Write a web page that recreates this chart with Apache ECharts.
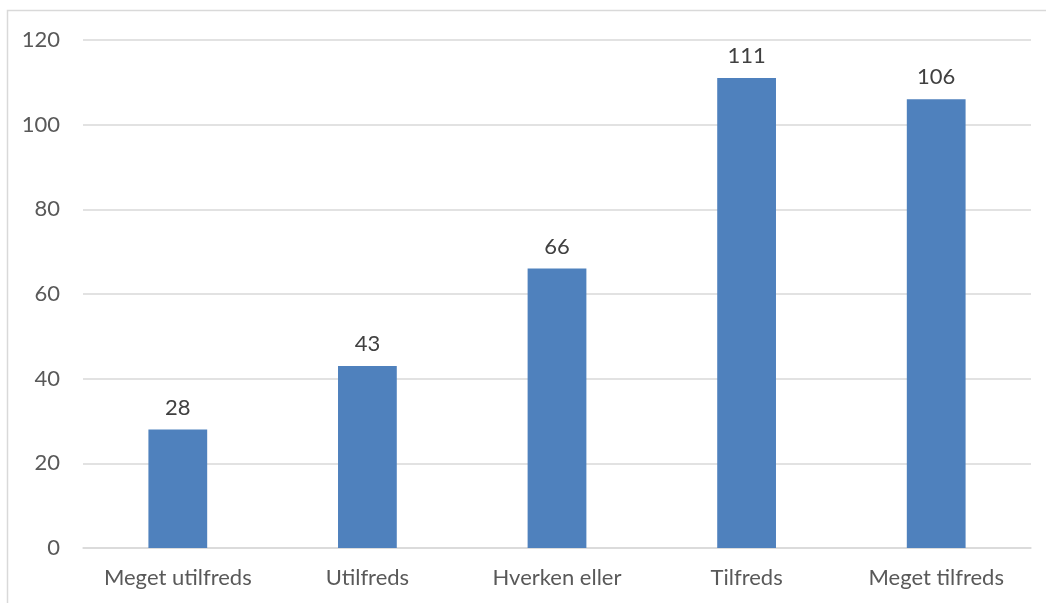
<!DOCTYPE html>
<html>
<head>
<meta charset="utf-8">
<style>
  html, body { margin: 0; padding: 0; background: #fff; }
  #chart { width: 1046px; height: 603px; }
</style>
<script src="https://cdn.jsdelivr.net/npm/echarts@6/dist/echarts.min.js"></script>
</head>
<body>
<div id="chart"></div>
<script>
const categories = ['Meget utilfreds', 'Utilfreds', 'Hverken eller', 'Tilfreds', 'Meget tilfreds']
const counts = [28, 43, 66, 111, 106]
const yTicks = { min: 0, max: 120, interval: 20 }

const chart = echarts.init(document.getElementById('chart'))
chart.setOption({
  animation: false,
  textStyle: { fontFamily: 'Lato, "Open Sans", sans-serif' },
  graphic: [
    {
      type: 'rect',
      shape: { x: 7.5, y: 10.5, width: 1060, height: 620 },
      style: { fill: 'none', stroke: '#d9d9d9', lineWidth: 1.5 },
      silent: true
    }
  ],
  grid: { left: 83, right: 15, top: 40, bottom: 55 },
  xAxis: {
    type: 'category',
    data: categories,
    axisLine: { lineStyle: { color: '#d9d9d9', width: 1.5 } },
    axisTick: { show: false },
    axisLabel: { color: '#595959', fontSize: 22, margin: 19, interval: 0, hideOverlap: false }
  },
  yAxis: {
    type: 'value',
    min: yTicks.min,
    max: yTicks.max,
    interval: yTicks.interval,
    axisLine: { show: false },
    axisTick: { show: false },
    axisLabel: { color: '#595959', fontSize: 22, margin: 23 },
    splitLine: { lineStyle: { color: '#d9d9d9', width: 1.5 } }
  },
  series: [
    {
      type: 'bar',
      data: counts,
      barWidth: '31%',
      itemStyle: { color: '#4f81bd' },
      label: {
        show: true,
        position: 'top',
        distance: 11,
        color: '#404040',
        fontSize: 22
      }
    }
  ]
})
</script>
</body>
</html>
